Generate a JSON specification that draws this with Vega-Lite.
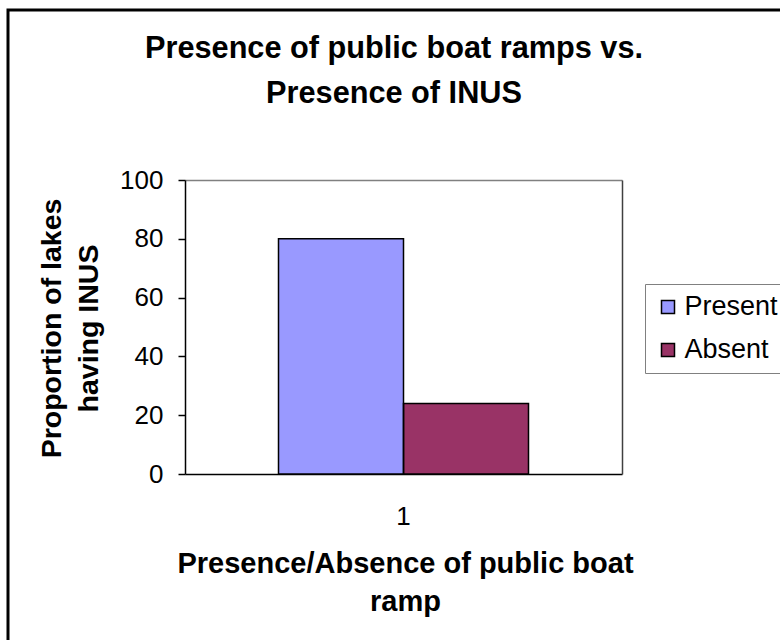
{
  "$schema": "https://vega.github.io/schema/vega-lite/v6.json",
  "autosize": "none",
  "width": 800,
  "height": 660,
  "padding": {"left": 8, "top": 10, "right": -28, "bottom": -30},
  "background": "#ffffff",
  "title": {
    "text": ["Presence of public boat ramps vs.", "Presence of INUS"],
    "font": "Liberation Sans",
    "fontSize": 30.7,
    "fontWeight": "bold",
    "color": "#000000",
    "anchor": "middle",
    "baseline": "alphabetic",
    "lineHeight": 45,
    "offset": -124,
    "dx": -14
  },
  "data": {
    "values": [
      {"group": "1", "presence": "Present", "value": 80},
      {"group": "1", "presence": "Absent", "value": 24}
    ]
  },
  "layer": [
    {
      "mark": {"type": "bar", "strokeWidth": 0},
      "encoding": {
        "x": {
          "field": "group",
          "type": "nominal",
          "scale": {"range": [177, 614], "paddingInner": 0, "paddingOuter": 0.374, "align": 0.5},
          "axis": {
            "orient": "bottom",
            "offset": -196,
            "domainColor": "#000000",
            "domainWidth": 1.5,
            "ticks": false,
            "tickSize": 0,
            "grid": false,
            "labelAngle": 0,
            "labelFont": "Liberation Sans",
            "labelFontSize": 26,
            "labelColor": "#000000",
            "labelPadding": 29,
            "title": ["Presence/Absence of public boat", "ramp"],
            "titleFont": "Liberation Sans",
            "titleFontSize": 29,
            "titleFontWeight": "bold",
            "titleColor": "#000000",
            "titleLineHeight": 38,
            "titleBaseline": "alphabetic",
            "titleAlign": "center",
            "titleX": 397,
            "titleY": 98
          }
        },
        "xOffset": {
          "field": "presence",
          "type": "nominal",
          "sort": ["Present", "Absent"],
          "scale": {"paddingInner": 0, "paddingOuter": 0}
        },
        "y": {
          "field": "value",
          "type": "quantitative",
          "scale": {"domain": [0, 100], "range": [464, 170], "nice": false, "zero": true},
          "axis": {
            "orient": "left",
            "offset": -177,
            "values": [0, 20, 40, 60, 80, 100],
            "domainColor": "#000000",
            "domainWidth": 1.5,
            "tickColor": "#000000",
            "tickSize": 7,
            "tickWidth": 1.5,
            "labelFont": "Liberation Sans",
            "labelFontSize": 26,
            "labelColor": "#000000",
            "labelPadding": 15,
            "grid": true,
            "gridColor": "#808080",
            "gridWidth": 1.5,
            "gridOpacity": {"condition": {"test": "datum.value === 100", "value": 1}, "value": 0},
            "title": ["Proportion of lakes", "having INUS"],
            "titleFont": "Liberation Sans",
            "titleFontSize": 28.5,
            "titleFontWeight": "bold",
            "titleColor": "#000000",
            "titleLineHeight": 37,
            "titleAngle": -90,
            "titleBaseline": "alphabetic",
            "titleAlign": "center",
            "titleX": -125,
            "titleY": 318
          }
        },
        "color": {
          "field": "presence",
          "type": "nominal",
          "sort": ["Present", "Absent"],
          "scale": {"domain": ["Present", "Absent"], "range": ["#9999FF", "#993366"]},
          "legend": {
            "title": null,
            "orient": "none",
            "legendX": 637,
            "legendY": 274,
            "padding": 9.5,
            "rowPadding": 15,
            "labelOffset": 3,
            "labelFont": "Liberation Sans",
            "labelFontSize": 27,
            "labelColor": "#000000",
            "labelLimit": 300,
            "symbolType": "square",
            "symbolSize": 169,
            "symbolStrokeColor": "#000000",
            "symbolStrokeWidth": 1.5,
            "symbolOpacity": 1,
            "strokeColor": "#808080"
          }
        }
      }
    },
    {
      "mark": {"type": "bar", "fillOpacity": 0, "stroke": "#000000", "strokeWidth": 1.5},
      "encoding": {
        "x": {"field": "group", "type": "nominal"},
        "xOffset": {"field": "presence", "type": "nominal", "sort": ["Present", "Absent"]},
        "y": {
          "field": "value",
          "type": "quantitative",
          "scale": {"domain": [0, 100], "range": [464, 170], "nice": false, "zero": true},
          "axis": {
            "orient": "right",
            "offset": -186,
            "domainColor": "#404040",
            "domainWidth": 1.5,
            "ticks": false,
            "labels": false,
            "grid": false,
            "title": null
          }
        }
      }
    }
  ],
  "resolve": {"scale": {"y": "independent"}},
  "config": {
    "view": {"stroke": "#000000", "strokeWidth": 3},
    "font": "Liberation Sans"
  }
}
